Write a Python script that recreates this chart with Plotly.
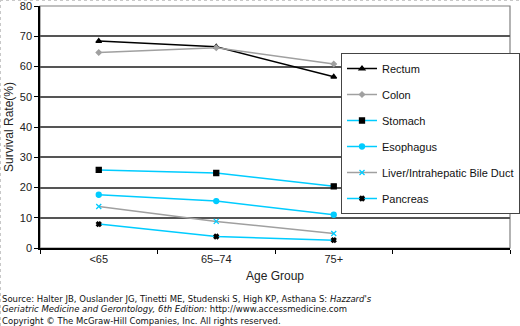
import plotly.graph_objects as go

categories = ["<65", "65–74", "75+"]
axis_slots = ["<65", "65–74", "75+", " "]
y_ticks = [0, 10, 20, 30, 40, 50, 60, 70, 80]

rectum = [68.4, 66.5, 56.6]
colon = [64.6, 66.2, 60.8]
stomach = [25.8, 24.8, 20.4]
esophagus = [17.6, 15.5, 11.0]
liver = [13.7, 8.8, 4.8]
pancreas = [7.9, 3.8, 2.6]

CYAN = "#00ccff"
GRAY = "#a0a0a0"

series = [
    ("Rectum", rectum, "#000000", "triangle-up", "#000000", 5),
    ("Colon", colon, GRAY, "diamond", GRAY, 4),
    ("Stomach", stomach, CYAN, "square", "#000000", 5),
    ("Esophagus", esophagus, CYAN, "circle", CYAN, 5),
    ("Liver/Intrahepatic Bile Duct", liver, GRAY, "x-thin-open", CYAN, 5),
    ("Pancreas", pancreas, CYAN, "x", "#000000", 4),
]

T, B, L, R = 6, 78, 40, 10
PW, PH = 520 - L - R, 326 - T - B


def px_x(p):
    return (p - L) / PW


def px_y(p):
    return (326 - B - p) / PH


fig = go.Figure()
for name, vals, lc, sym, mc, ms in series:
    fig.add_trace(go.Scatter(
        x=categories, y=vals, name=name, mode="lines+markers",
        legendgroup=name,
        line=dict(color=lc, width=1.5),
        marker=dict(symbol=sym, color=mc, size=ms,
                    line=dict(color=mc, width=1.3)),
    ))

# plot-area frame
fig.add_shape(type="rect", xref="paper", yref="paper", x0=0, y0=0, x1=1, y1=1,
              line=dict(color="#808080", width=1.2), layer="below")
# faint dotted image border (top and left)
fig.add_shape(type="line", xref="paper", yref="paper",
              x0=px_x(0), x1=px_x(520), y0=px_y(0.5), y1=px_y(0.5),
              line=dict(color="#c8c8c8", width=1, dash="dot"))
fig.add_shape(type="line", xref="paper", yref="paper",
              x0=px_x(0.5), x1=px_x(0.5), y0=px_y(326), y1=px_y(0),
              line=dict(color="#c8c8c8", width=1, dash="dot"))

fig.update_layout(
    width=520, height=326,
    margin=dict(l=L, r=R, t=T, b=B, autoexpand=False),
    paper_bgcolor="white", plot_bgcolor="white",
    font=dict(family="Liberation Sans, Arial, sans-serif", size=11, color="#222"),
    showlegend=True,
    legend=dict(
        x=px_x(341), y=px_y(53), xanchor="left", yanchor="top",
        bgcolor="white", bordercolor="#444", borderwidth=1,
        font=dict(size=11, color="#111"),
        tracegroupgap=7,
        traceorder="grouped",
    ),
    xaxis=dict(
        type="category", categoryorder="array", categoryarray=axis_slots,
        range=[-0.5, 3.5], tickson="boundaries",
        ticks="outside", ticklen=4, tickcolor="#000",
        showline=True, linecolor="#000", linewidth=1.5,
        showgrid=False, zeroline=False, automargin=False,
        title=dict(text="Age Group", font=dict(size=12, color="#222"), standoff=8),
        tickfont=dict(size=11, color="#222"),
    ),
    yaxis=dict(
        range=[0, 80], tickmode="array", tickvals=y_ticks,
        ticks="outside", ticklen=4, tickcolor="#000",
        ticklabeloverflow="allow", automargin=False,
        showline=True, linecolor="#000", linewidth=1.5,
        showgrid=True, gridcolor="#555555", gridwidth=1.6,
        zeroline=False,
        title=dict(text="Survival Rate(%)", font=dict(size=12, color="#222"), standoff=4),
        tickfont=dict(size=11, color="#222"),
    ),
)

src_font = dict(family="DejaVu Sans, Verdana, sans-serif", size=8.5, color="#111")
lines = [
    ("Source: Halter JB, Ouslander JG, Tinetti ME, Studenski S, High KP, Asthana S: <i>Hazzard's</i>", 298.7),
    ("<i>Geriatric Medicine and Gerontology, 6th Edition:</i> http://www.accessmedicine.com", 308.7),
    ("Copyright © The McGraw-Hill Companies, Inc. All rights reserved.", 320.7),
]
for txt, ypix in lines:
    fig.add_annotation(
        xref="paper", yref="paper", x=px_x(0), y=px_y(ypix),
        xanchor="left", yanchor="middle",
        text=txt, showarrow=False, font=src_font, align="left",
    )

fig.write_html("out.html")
